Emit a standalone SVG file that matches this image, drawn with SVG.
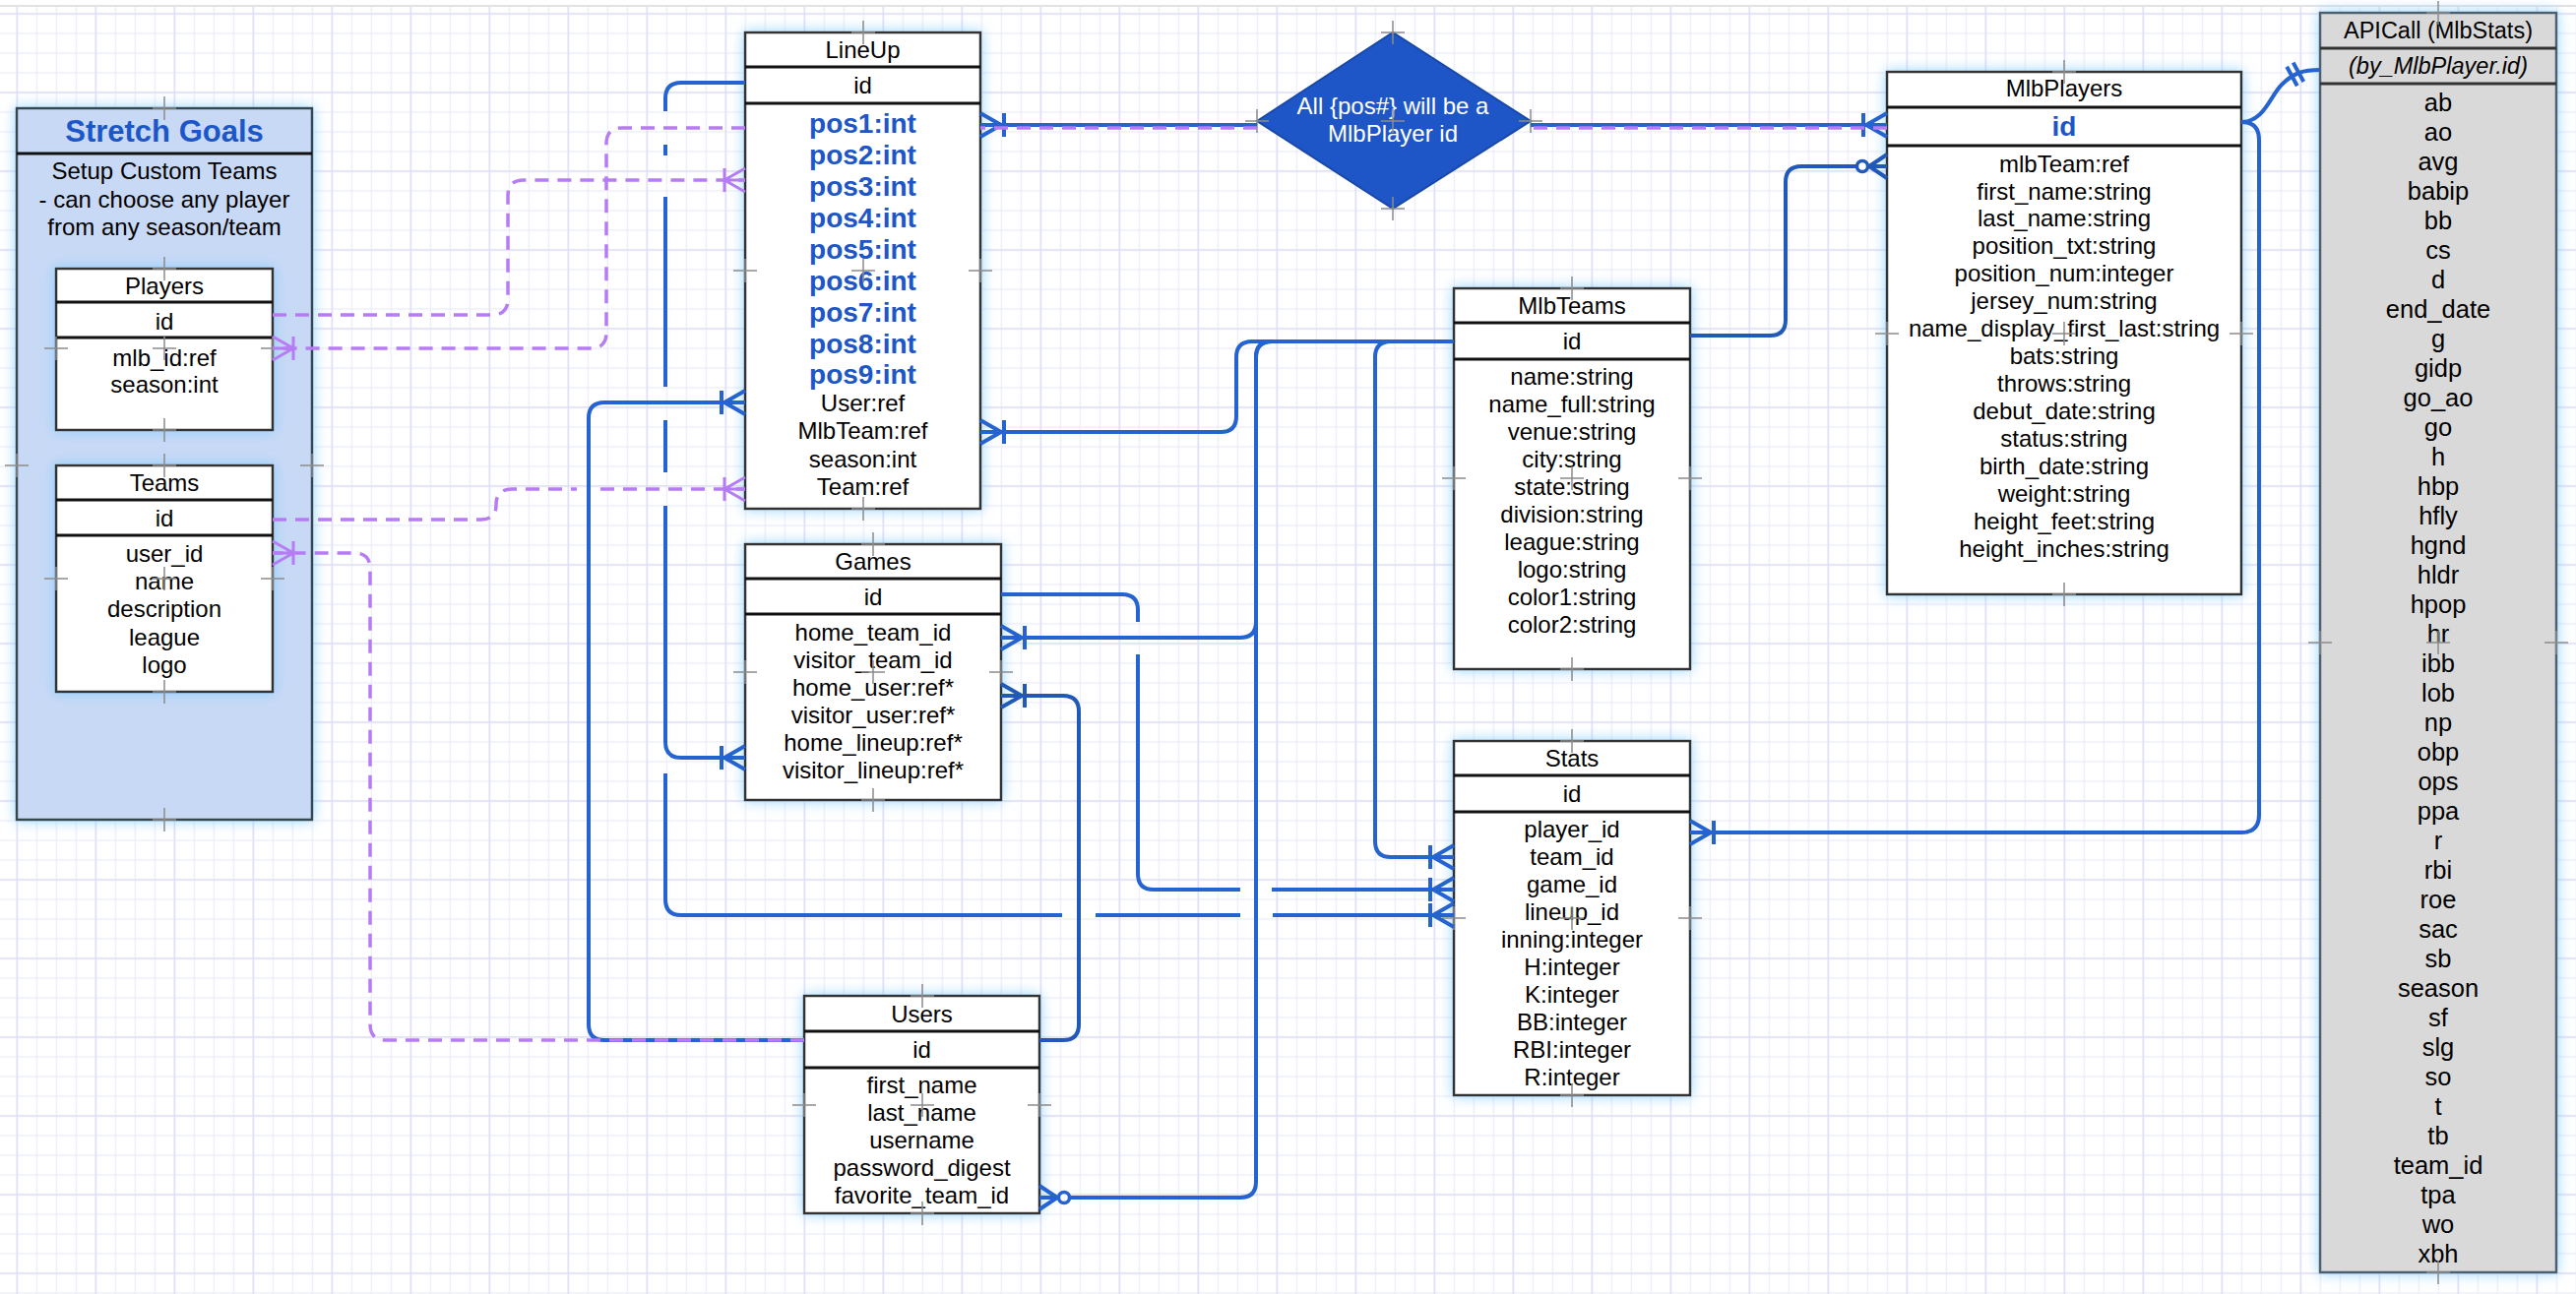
<svg xmlns="http://www.w3.org/2000/svg" width="2617" height="1315" viewBox="0 0 2617 1315">
<defs>
<style>
.t{font-family:"Liberation Sans",Arial,sans-serif;font-size:24px;fill:#000;text-anchor:middle}
.pos{font-family:"Liberation Sans",Arial,sans-serif;font-size:28px;font-weight:bold;fill:#1d56c6;text-anchor:middle}
.api{font-family:"Liberation Sans",Arial,sans-serif;font-size:25.5px;fill:#000;text-anchor:middle}
.apih{font-family:"Liberation Sans",Arial,sans-serif;font-size:23.5px;fill:#000;text-anchor:middle}
.sg{font-family:"Liberation Sans",Arial,sans-serif;font-size:31px;font-weight:bold;fill:#1c57c9;text-anchor:middle}
.dt{font-family:"Liberation Sans",Arial,sans-serif;font-size:24px;fill:#fff;text-anchor:middle}
.box{fill:#fff;stroke:#333;stroke-width:2.5}
.sep{stroke:#111;stroke-width:3}
.c{fill:none;stroke:#2563d0;stroke-width:4;stroke-linejoin:round}
.cd{fill:none;stroke:#2159b8;stroke-width:4;stroke-linejoin:round}
.p{fill:none;stroke:#b67cf4;stroke-width:3.5;stroke-dasharray:14 9}
.x{stroke:#8c8c8c;stroke-width:1.5}
</style>
<pattern id="gmin" width="20" height="20" patternUnits="userSpaceOnUse" x="16.67" y="13.33">
<path d="M0.5,0 V20 M0,0.5 H20" stroke="#ebebfa" stroke-width="1.3" fill="none"/>
</pattern>
<pattern id="gmaj" width="80" height="80" patternUnits="userSpaceOnUse" x="16.67" y="13.33">
<path d="M0.5,0 V80 M0,0.5 H80" stroke="#dcdcf4" stroke-width="1.6" fill="none"/>
</pattern>
<filter id="glow" x="-30%" y="-10%" width="160%" height="120%">
<feGaussianBlur in="SourceAlpha" stdDeviation="7" result="b"/>
<feFlood flood-color="#7ccbff" flood-opacity="0.8"/>
<feComposite operator="in" in2="b"/>
<feMerge><feMergeNode/><feMergeNode in="SourceGraphic"/></feMerge>
</filter>
<marker id="m1" viewBox="-30 -16 34 32" refX="0" refY="0" markerWidth="34" markerHeight="32" markerUnits="userSpaceOnUse" orient="auto" overflow="visible">
<path d="M-21,0 L0,-12 M-21,0 L0,12 M-24,-12 V12" stroke="#2563d0" stroke-width="4" fill="none"/>
</marker>
<marker id="m1d" viewBox="-30 -16 34 32" refX="0" refY="0" markerWidth="34" markerHeight="32" markerUnits="userSpaceOnUse" orient="auto" overflow="visible">
<path d="M-21,0 L0,-12 M-21,0 L0,12 M-24,-12 V12" stroke="#2159b8" stroke-width="4" fill="none"/>
</marker>
<marker id="m0" viewBox="-34 -16 38 32" refX="0" refY="0" markerWidth="38" markerHeight="32" markerUnits="userSpaceOnUse" orient="auto" overflow="visible">
<path d="M-18,0 L0,-12 M-18,0 L0,12" stroke="#2159b8" stroke-width="4" fill="none"/>
<circle cx="-25" cy="0" r="5.5" fill="#fff" stroke="#2159b8" stroke-width="3.5"/>
</marker>
<marker id="m0b" viewBox="-34 -16 38 32" refX="0" refY="0" markerWidth="38" markerHeight="32" markerUnits="userSpaceOnUse" orient="auto" overflow="visible">
<path d="M-18,0 L0,-12 M-18,0 L0,12" stroke="#2563d0" stroke-width="4" fill="none"/>
<circle cx="-25" cy="0" r="5.5" fill="#fff" stroke="#2563d0" stroke-width="3.5"/>
</marker>
<marker id="mp" viewBox="-30 -16 34 32" refX="0" refY="0" markerWidth="34" markerHeight="32" markerUnits="userSpaceOnUse" orient="auto" overflow="visible">
<path d="M-21,0 L0,-12 M-21,0 L0,12 M-21,0 H0 M-21,-12 V12" stroke="#b67cf4" stroke-width="3" fill="none"/>
</marker>
</defs>

<g id="background">
<rect x="0" y="0" width="2617" height="1315" fill="#fff"/>
<rect x="0" y="7" width="2617" height="1308" fill="url(#gmin)"/>
<rect x="0" y="7" width="2617" height="1308" fill="url(#gmaj)"/>
<line x1="0" y1="6" x2="2617" y2="6" stroke="#e2e2e2" stroke-width="2"/>
</g>

<g id="stretch-goals">
<rect x="17" y="110" width="300" height="723" fill="#c8d9f5" stroke="#36474f" stroke-width="2.5" filter="url(#glow)"/>
<line x1="17" y1="156" x2="317" y2="156" class="sep"/>
<text class="sg" x="167" y="144">Stretch Goals</text>
<text class="t" x="167" y="182">Setup Custom Teams</text>
<text class="t" x="167" y="210.5">- can choose any player</text>
<text class="t" x="167" y="239">from any season/team</text>
</g>

<g id="players">
<rect class="box" x="57" y="273" width="220" height="164" filter="url(#glow)"/>
<line class="sep" x1="57" y1="307" x2="277" y2="307"/>
<line class="sep" x1="57" y1="343" x2="277" y2="343"/>
<text class="t" x="167" y="298.5">Players</text>
<text class="t" x="167" y="334.5">id</text>
<text class="t" x="167" y="371.5">mlb_id:ref</text>
<text class="t" x="167" y="398.5">season:int</text>
</g>

<g id="teams">
<rect class="box" x="57" y="473" width="220" height="230" filter="url(#glow)"/>
<line class="sep" x1="57" y1="508" x2="277" y2="508"/>
<line class="sep" x1="57" y1="544" x2="277" y2="544"/>
<text class="t" x="167" y="498.5">Teams</text>
<text class="t" x="167" y="534.5">id</text>
<text class="t" x="167" y="570.5">user_id</text>
<text class="t" x="167" y="598.5">name</text>
<text class="t" x="167" y="626.5">description</text>
<text class="t" x="167" y="655.5">league</text>
<text class="t" x="167" y="683.5">logo</text>
</g>

<g id="lineup">
<rect class="box" x="757" y="33" width="239" height="484" filter="url(#glow)"/>
<line class="sep" x1="757" y1="68" x2="996" y2="68"/>
<line class="sep" x1="757" y1="105" x2="996" y2="105"/>
<text class="t" x="876.5" y="58.5">LineUp</text>
<text class="t" x="876.5" y="94.5">id</text>
<text class="pos" x="876.5" y="135">pos1:int</text>
<text class="pos" x="876.5" y="167">pos2:int</text>
<text class="pos" x="876.5" y="199">pos3:int</text>
<text class="pos" x="876.5" y="231">pos4:int</text>
<text class="pos" x="876.5" y="262.5">pos5:int</text>
<text class="pos" x="876.5" y="294.5">pos6:int</text>
<text class="pos" x="876.5" y="326.5">pos7:int</text>
<text class="pos" x="876.5" y="358.5">pos8:int</text>
<text class="pos" x="876.5" y="390">pos9:int</text>
<text class="t" x="876.5" y="417.5">User:ref</text>
<text class="t" x="876.5" y="445.5">MlbTeam:ref</text>
<text class="t" x="876.5" y="474.5">season:int</text>
<text class="t" x="876.5" y="502.5">Team:ref</text>
</g>

<g id="games">
<rect class="box" x="757" y="553" width="260" height="260" filter="url(#glow)"/>
<line class="sep" x1="757" y1="588" x2="1017" y2="588"/>
<line class="sep" x1="757" y1="624" x2="1017" y2="624"/>
<text class="t" x="887" y="578.5">Games</text>
<text class="t" x="887" y="614.5">id</text>
<text class="t" x="887" y="650.5">home_team_id</text>
<text class="t" x="887" y="678.5">visitor_team_id</text>
<text class="t" x="887" y="706.5">home_user:ref*</text>
<text class="t" x="887" y="734.5">visitor_user:ref*</text>
<text class="t" x="887" y="762.5">home_lineup:ref*</text>
<text class="t" x="887" y="790.5">visitor_lineup:ref*</text>
</g>

<g id="users">
<rect class="box" x="817" y="1012" width="239" height="221" filter="url(#glow)"/>
<line class="sep" x1="817" y1="1048" x2="1056" y2="1048"/>
<line class="sep" x1="817" y1="1085" x2="1056" y2="1085"/>
<text class="t" x="936.5" y="1038.5">Users</text>
<text class="t" x="936.5" y="1074.5">id</text>
<text class="t" x="936.5" y="1110.5">first_name</text>
<text class="t" x="936.5" y="1138.5">last_name</text>
<text class="t" x="936.5" y="1166.5">username</text>
<text class="t" x="936.5" y="1194.5">password_digest</text>
<text class="t" x="936.5" y="1222.5">favorite_team_id</text>
</g>

<g id="note-diamond">
<polygon points="1277,123 1415,33 1555,123 1415,212" fill="#1f56c7" stroke="#1848a8" stroke-width="2"/>
<text class="dt" x="1415" y="115.5">All {pos#} will be a</text>
<text class="dt" x="1415" y="143.5">MlbPlayer id</text>
</g>

<g id="mlbteams">
<rect class="box" x="1477" y="293" width="240" height="387" filter="url(#glow)"/>
<line class="sep" x1="1477" y1="328" x2="1717" y2="328"/>
<line class="sep" x1="1477" y1="365" x2="1717" y2="365"/>
<text class="t" x="1597" y="318.5">MlbTeams</text>
<text class="t" x="1597" y="354.5">id</text>
<text class="t" x="1597" y="390.5">name:string</text>
<text class="t" x="1597" y="418.5">name_full:string</text>
<text class="t" x="1597" y="446.5">venue:string</text>
<text class="t" x="1597" y="474.5">city:string</text>
<text class="t" x="1597" y="502.5">state:string</text>
<text class="t" x="1597" y="530.5">division:string</text>
<text class="t" x="1597" y="558.5">league:string</text>
<text class="t" x="1597" y="586.5">logo:string</text>
<text class="t" x="1597" y="614.5">color1:string</text>
<text class="t" x="1597" y="642.5">color2:string</text>
</g>

<g id="stats">
<rect class="box" x="1477" y="753" width="240" height="360" filter="url(#glow)"/>
<line class="sep" x1="1477" y1="788" x2="1717" y2="788"/>
<line class="sep" x1="1477" y1="825" x2="1717" y2="825"/>
<text class="t" x="1597" y="778.5">Stats</text>
<text class="t" x="1597" y="814.5">id</text>
<text class="t" x="1597" y="850.5">player_id</text>
<text class="t" x="1597" y="878.6">team_id</text>
<text class="t" x="1597" y="906.7">game_id</text>
<text class="t" x="1597" y="934.8">lineup_id</text>
<text class="t" x="1597" y="962.9">inning:integer</text>
<text class="t" x="1597" y="991">H:integer</text>
<text class="t" x="1597" y="1019.1">K:integer</text>
<text class="t" x="1597" y="1047.2">BB:integer</text>
<text class="t" x="1597" y="1075.3">RBI:integer</text>
<text class="t" x="1597" y="1103.4">R:integer</text>
</g>

<g id="mlbplayers">
<rect class="box" x="1917" y="73" width="360" height="531" filter="url(#glow)"/>
<line class="sep" x1="1917" y1="109" x2="2277" y2="109"/>
<line class="sep" x1="1917" y1="148" x2="2277" y2="148"/>
<text class="t" x="2097" y="97.5">MlbPlayers</text>
<text class="pos" x="2097" y="138">id</text>
<text class="t" x="2097" y="174.5">mlbTeam:ref</text>
<text class="t" x="2097" y="202.5">first_name:string</text>
<text class="t" x="2097" y="230.4">last_name:string</text>
<text class="t" x="2097" y="258.4">position_txt:string</text>
<text class="t" x="2097" y="286.3">position_num:integer</text>
<text class="t" x="2097" y="314.3">jersey_num:string</text>
<text class="t" x="2097" y="342.2">name_display_first_last:string</text>
<text class="t" x="2097" y="370.2">bats:string</text>
<text class="t" x="2097" y="398.1">throws:string</text>
<text class="t" x="2097" y="426.1">debut_date:string</text>
<text class="t" x="2097" y="454">status:string</text>
<text class="t" x="2097" y="482">birth_date:string</text>
<text class="t" x="2097" y="509.9">weight:string</text>
<text class="t" x="2097" y="537.9">height_feet:string</text>
<text class="t" x="2097" y="565.8">height_inches:string</text>
</g>

<g id="apicall">
<rect x="2357" y="13" width="240" height="1280" fill="#d9d9d9" stroke="#4d6170" stroke-width="2.5" filter="url(#glow)"/>
<line class="sep" x1="2357" y1="49" x2="2597" y2="49" style="stroke:#333"/>
<line class="sep" x1="2357" y1="85" x2="2597" y2="85" style="stroke:#333"/>
<text class="apih" x="2477" y="38.5">APICall (MlbStats)</text>
<text class="apih" x="2477" y="74.5" font-style="italic">(by_MlbPlayer.id)</text>
<text class="api" x="2477" y="113">ab</text>
<text class="api" x="2477" y="143">ao</text>
<text class="api" x="2477" y="173">avg</text>
<text class="api" x="2477" y="203">babip</text>
<text class="api" x="2477" y="233">bb</text>
<text class="api" x="2477" y="263">cs</text>
<text class="api" x="2477" y="293">d</text>
<text class="api" x="2477" y="323">end_date</text>
<text class="api" x="2477" y="353">g</text>
<text class="api" x="2477" y="383">gidp</text>
<text class="api" x="2477" y="413">go_ao</text>
<text class="api" x="2477" y="443">go</text>
<text class="api" x="2477" y="473">h</text>
<text class="api" x="2477" y="503">hbp</text>
<text class="api" x="2477" y="533">hfly</text>
<text class="api" x="2477" y="563">hgnd</text>
<text class="api" x="2477" y="593">hldr</text>
<text class="api" x="2477" y="623">hpop</text>
<text class="api" x="2477" y="653">hr</text>
<text class="api" x="2477" y="683">ibb</text>
<text class="api" x="2477" y="713">lob</text>
<text class="api" x="2477" y="743">np</text>
<text class="api" x="2477" y="773">obp</text>
<text class="api" x="2477" y="803">ops</text>
<text class="api" x="2477" y="833">ppa</text>
<text class="api" x="2477" y="863">r</text>
<text class="api" x="2477" y="893">rbi</text>
<text class="api" x="2477" y="923">roe</text>
<text class="api" x="2477" y="953">sac</text>
<text class="api" x="2477" y="983">sb</text>
<text class="api" x="2477" y="1013">season</text>
<text class="api" x="2477" y="1043">sf</text>
<text class="api" x="2477" y="1073">slg</text>
<text class="api" x="2477" y="1103">so</text>
<text class="api" x="2477" y="1133">t</text>
<text class="api" x="2477" y="1163">tb</text>
<text class="api" x="2477" y="1193">team_id</text>
<text class="api" x="2477" y="1223">tpa</text>
<text class="api" x="2477" y="1253">wo</text>
<text class="api" x="2477" y="1283">xbh</text>
</g>

<g id="handles" class="x">
<path class="x" d="M155,110h24M167,98v24 M5,473h24M17,461v24 M305,473h24M317,461v24 M155,833h24M167,821v24
M155,273h24M167,261v24 M45,354h24M57,342v24 M265,354h24M277,342v24 M155,354h24M167,342v24 M155,437h24M167,425v24
M155,473h24M167,461v24 M45,588h24M57,576v24 M265,588h24M277,576v24 M155,588h24M167,576v24 M155,703h24M167,691v24
M865,33h24M877,21v24 M745,275h24M757,263v24 M984,275h24M996,263v24 M865,275h24M877,263v24 M865,517h24M877,505v24
M875,553h24M887,541v24 M745,683h24M757,671v24 M1005,683h24M1017,671v24 M875,683h24M887,671v24 M875,813h24M887,801v24
M925,1012h24M937,1000v24 M805,1123h24M817,1111v24 M1044,1123h24M1056,1111v24 M925,1123h24M937,1111v24 M925,1233h24M937,1221v24
M1585,293h24M1597,281v24 M1465,486h24M1477,474v24 M1705,486h24M1717,474v24 M1585,486h24M1597,474v24 M1585,680h24M1597,668v24
M1585,753h24M1597,741v24 M1465,933h24M1477,921v24 M1705,933h24M1717,921v24 M1585,933h24M1597,921v24 M1585,1113h24M1597,1101v24
M2085,73h24M2097,61v24 M1905,339h24M1917,327v24 M2265,339h24M2277,327v24 M2085,339h24M2097,327v24 M2085,604h24M2097,592v24
M2465,13h24M2477,1v24 M2345,653h24M2357,641v24 M2585,653h24M2597,641v24 M2465,653h24M2477,641v24 M2465,1293h24M2477,1281v24
M1403,33h24M1415,21v24 M1265,123h24M1277,111v24 M1543,123h24M1555,111v24 M1403,123h24M1415,111v24 M1403,212h24M1415,200v24"/>
</g>

<g id="connectors">
<path class="c" d="M1277,127 H996" marker-end="url(#m1)"/>
<path class="c" d="M1555,127 H1917" marker-end="url(#m1)"/>
<path class="c" d="M2277,124 C2300,124 2306,98 2318,86 C2330,74 2340,71 2357,71"/>
<path class="c" d="M2323.2,67.8 L2333.8,87.2 M2329.7,63.6 L2340.3,83"/>
<path class="c" d="M2277,124 Q2295,124 2295,142 V828 Q2295,846 2277,846 H1717" marker-end="url(#m1)"/>
<path class="cd" d="M1717,341 H1798 Q1814,341 1814,325 V185 Q1814,169 1830,169 H1917" marker-end="url(#m0)"/>
<path class="c" d="M1477,347 H1272 Q1256,347 1256,363 V423 Q1256,439 1240,439 H996" marker-end="url(#m1)"/>
<path class="c" d="M1477,347 H1292 Q1276,347 1276,363 V632 Q1276,648 1260,648 H1017" marker-end="url(#m1)"/>
<path class="c" d="M1477,347 H1292 Q1276,347 1276,363 V1201 Q1276,1217 1260,1217 H1056" marker-end="url(#m0b)"/>
<path class="c" d="M1477,347 H1413 Q1397,347 1397,363 V855 Q1397,871 1413,871 H1477" marker-end="url(#m1)"/>
<path class="c" d="M1017,604 H1140 Q1156,604 1156,620 V632 M1156,665 V888 Q1156,904 1172,904 H1260 M1292,904 H1477" marker-end="url(#m1)"/>
<path class="c" d="M757,84 H692 Q676,84 676,100 V113 M676,147 V158 M676,200 V393 M676,427 V480 M676,514 V754 Q676,770 692,770 H757" marker-end="url(#m1)"/>
<path class="c" d="M676,786 V914 Q676,930 692,930 H1079 M1113,930 H1260 M1293,930 H1477" marker-end="url(#m1)"/>
<path class="c" d="M817,1057 H614 Q598,1057 598,1041 V425 Q598,409 614,409 H757" marker-end="url(#m1)"/>
<path class="cd" d="M1056,1057 H1080 Q1096,1057 1096,1041 V723 Q1096,707 1080,707 H1017" marker-end="url(#m1d)"/>
<path class="p" d="M277,320 H500 Q516,320 516,304 V199 Q516,183 532,183 H757" marker-end="url(#mp)"/>
<path class="p" d="M1917,130 H1555 M1277,130 H996 M757,130 H632 Q616,130 616,146 V338 Q616,354 600,354 H277" marker-end="url(#mp)"/>
<path class="p" d="M277,528 H489 Q504,528 504,513 Q504,497 520,497 H586 M610,497 H757" marker-end="url(#mp)"/>
<path class="p" d="M817,1057 H392 Q376,1057 376,1041 V578 Q376,562 360,562 H277" marker-end="url(#mp)"/>
</g>
</svg>
